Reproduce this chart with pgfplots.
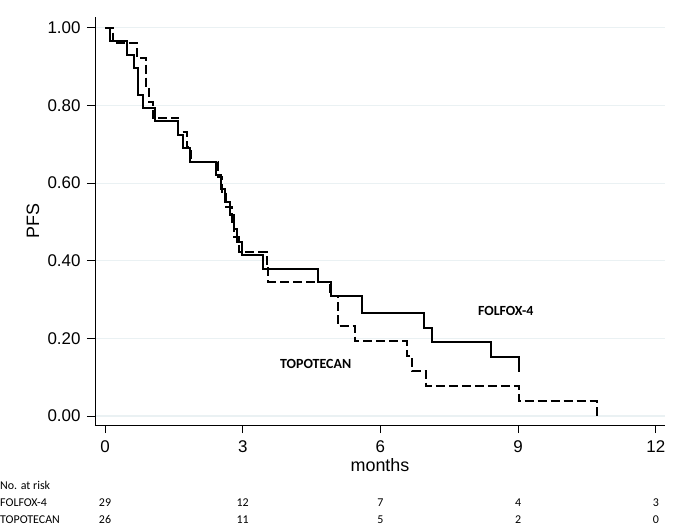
\documentclass[border=0pt]{standalone}
\usepackage{fontspec}
\setmainfont{Liberation Sans}
\newfontfamily\calib{Carlito}
\usepackage{pgfplots}
\pgfplotsset{compat=1.18}

\definecolor{gridc}{RGB}{234,241,243}

\begin{document}
\begin{tikzpicture}
\path[use as bounding box] (-95bp,-102bp) rectangle (590bp,425bp);
\begin{axis}[
    at={(0,0)}, anchor=south west,
    scale only axis,
    width=570bp, height=408bp,
    xmin=-0.218, xmax=12.2,
    ymin=-0.0232, ymax=1.028,
    axis x line*=bottom, axis y line*=left,
    axis line style={line width=0.8bp, -},
    xtick={0,3,6,9,12},
    ytick={0,0.2,0.4,0.6,0.8,1},
    tick align=outside,
    major tick length=8bp,
    tick style={line width=0.8bp, black},
    ymajorgrids,
    grid style={gridc, line width=1.2bp},
    /pgf/number format/assume math mode=true,
    yticklabel style={xshift=-3bp, /pgf/number format/.cd, fixed, fixed zerofill, precision=2},
    xticklabel style={yshift=-4bp},
    ticklabel style={font=\fontsize{17}{20}\selectfont},
    xlabel={months},
    ylabel={PFS},
    label style={font=\fontsize{18}{21}\selectfont},
    xlabel style={at={(axis description cs:0.5,-0.098)}, anchor=center},
    ylabel style={at={(axis description cs:-0.109,0.5)}, anchor=center, rotate=0},
    clip=false,
]
% FOLFOX-4 (solid)
\addplot[const plot, black, line width=2bp] coordinates {
(0,1.000) (0.11,0.9655) (0.49,0.931) (0.64,0.897) (0.71,0.828) (0.83,0.793)
(1.09,0.759) (1.60,0.724) (1.71,0.690) (1.85,0.655) (2.42,0.621) (2.52,0.586)
(2.62,0.552) (2.72,0.517) (2.80,0.483) (2.88,0.448) (2.98,0.414) (3.45,0.379)
(4.63,0.345) (4.93,0.310) (5.60,0.265) (6.95,0.228) (7.13,0.190) (8.41,0.151)
(9.02,0.113)
};
% TOPOTECAN (dashed)
\addplot[const plot, black, line width=2bp, dash pattern=on 9bp off 4bp] coordinates {
(0,1.000) (0.18,0.9615) (0.69,0.923) (0.90,0.846) (0.96,0.808) (1.05,0.769)
(1.60,0.731) (1.78,0.692) (1.87,0.654) (2.46,0.615) (2.54,0.577) (2.64,0.538)
(2.76,0.500) (2.82,0.462) (2.92,0.423) (3.52,0.385) (3.56,0.346) (4.90,0.308)
(5.07,0.231) (5.45,0.192) (6.58,0.154) (6.68,0.115) (7.00,0.077) (9.02,0.038)
(10.71,0.000)
};
\node[font=\calib\bfseries\fontsize{14}{16}\selectfont, anchor=west] at (axis cs:8.05,0.271) {FOLFOX-4};
\node[font=\calib\bfseries\fontsize{14}{16}\selectfont, anchor=west] at (axis cs:3.74,0.135) {TOPOTECAN};
\end{axis}
\begin{scope}[font=\calib\fontsize{12}{14}\selectfont]
\node[anchor=west, inner sep=0] at (-95bp,-60bp) {No. at risk};
\node[anchor=west, inner sep=0] at (-95bp,-78bp) {FOLFOX-4};
\node[anchor=west, inner sep=0] at (-95bp,-95bp) {TOPOTECAN};
\foreach \x/\a/\b in {0/29/26, 3/12/11, 6/7/5, 9/4/2, 12/3/0} {
  \node[inner sep=0] at ({10bp+45.9bp*\x},-78bp) {\a};
  \node[inner sep=0] at ({10bp+45.9bp*\x},-95bp) {\b};
}
\end{scope}
\end{tikzpicture}
\end{document}
